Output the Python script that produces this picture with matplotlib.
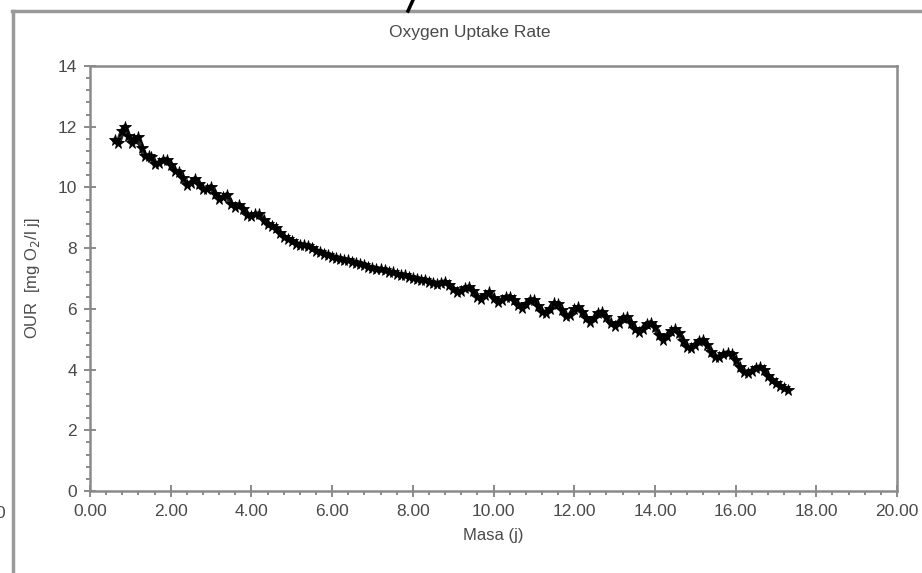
import matplotlib.pyplot as plt
from matplotlib.lines import Line2D
from matplotlib.ticker import MultipleLocator, FormatStrFormatter

plt.rcParams['font.family'] = ['Liberation Sans', 'DejaVu Sans']

# Masa (j) vs OUR
masa = [0.62, 0.7, 0.8, 0.87, 0.95, 1.03, 1.1, 1.2, 1.28, 1.36,
        1.45, 1.52, 1.61, 1.7, 1.8, 1.9, 2.0, 2.1, 2.2, 2.3,
        2.4, 2.5, 2.6, 2.7, 2.8, 2.9, 3.0, 3.1, 3.2, 3.3,
        3.4, 3.5, 3.6, 3.7, 3.8, 3.9, 4.0, 4.1, 4.2, 4.3,
        4.4, 4.5, 4.6, 4.7, 4.8, 4.9, 5.0, 5.1, 5.2, 5.3,
        5.4, 5.5, 5.6, 5.7, 5.8, 5.9, 6.0, 6.1, 6.2, 6.3,
        6.4, 6.5, 6.6, 6.7, 6.8, 6.9, 7.0, 7.1, 7.2, 7.3,
        7.4, 7.5, 7.6, 7.7, 7.8, 7.9, 8.0, 8.1, 8.2, 8.3,
        8.4, 8.5, 8.6, 8.7, 8.8, 8.9, 9.0, 9.1, 9.2, 9.3,
        9.4, 9.5, 9.6, 9.7, 9.8, 9.9, 10.0, 10.1, 10.2, 10.3,
        10.4, 10.5, 10.6, 10.7, 10.8, 10.9, 11.0, 11.1, 11.2, 11.3,
        11.4, 11.5, 11.6, 11.7, 11.8, 11.9, 12.0, 12.1, 12.2, 12.3,
        12.4, 12.5, 12.6, 12.7, 12.8, 12.9, 13.0, 13.1, 13.2, 13.3,
        13.4, 13.5, 13.6, 13.7, 13.8, 13.9, 14.0, 14.1, 14.2, 14.3,
        14.4, 14.5, 14.6, 14.7, 14.8, 14.9, 15.0, 15.1, 15.2, 15.3,
        15.4, 15.5, 15.6, 15.7, 15.8, 15.9, 16.0, 16.1, 16.2, 16.3,
        16.4, 16.5, 16.6, 16.7, 16.8, 16.9, 17.0, 17.1, 17.2, 17.3]
our = [11.55, 11.45, 11.85, 12.0, 11.7, 11.48, 11.6, 11.65, 11.3, 11.02,
       11.05, 11.0, 10.76, 10.8, 10.9, 10.92, 10.75, 10.55, 10.5, 10.3,
       10.08, 10.15, 10.28, 10.1, 9.95, 9.95, 10.02, 9.8, 9.62, 9.68,
       9.76, 9.45, 9.35, 9.42, 9.3, 9.1, 9.05, 9.12, 9.12, 8.92,
       8.78, 8.72, 8.65, 8.5, 8.38, 8.3, 8.25, 8.15, 8.12, 8.1,
       8.08, 8.0, 7.92, 7.86, 7.82, 7.78, 7.72, 7.68, 7.65, 7.62,
       7.6, 7.56, 7.52, 7.48, 7.44, 7.38, 7.34, 7.32, 7.3, 7.27,
       7.22, 7.2, 7.15, 7.12, 7.1, 7.06, 7.02, 7.0, 6.95, 6.96,
       6.9, 6.86, 6.82, 6.86, 6.88, 6.8, 6.65, 6.55, 6.6, 6.68,
       6.72, 6.58, 6.4, 6.32, 6.45, 6.55, 6.35, 6.22, 6.28, 6.38,
       6.4, 6.3, 6.12, 6.04, 6.15, 6.3, 6.3, 6.1, 5.9, 5.88,
       6.0, 6.18, 6.15, 5.95, 5.75, 5.8, 5.98, 6.05, 5.9, 5.7,
       5.58, 5.7, 5.86, 5.9, 5.72, 5.52, 5.45, 5.55, 5.7, 5.72,
       5.55, 5.35, 5.25, 5.35, 5.5, 5.54, 5.4, 5.15, 4.98, 5.1,
       5.28, 5.33, 5.2, 4.95, 4.75, 4.72, 4.82, 4.95, 4.97, 4.8,
       4.58, 4.42, 4.4, 4.5, 4.55, 4.5, 4.3, 4.08, 3.92, 3.88,
       3.95, 4.05, 4.08, 4.0, 3.8, 3.65, 3.55, 3.45, 3.38, 3.32]

grey = '#8a8a8a'
txt = '#4a4a4a'

fig = plt.figure(figsize=(9.22, 5.73), dpi=100)
ax = fig.add_axes([90/922, 1 - 491/573, (897 - 90)/922, (491 - 66)/573])

ax.plot(masa, our, color='black', lw=4, alpha=0.85, solid_joinstyle='round')
ax.plot(masa, our, ls='none', marker='*', ms=8.5, color='black', mew=0.6)

ax.set_xlim(0, 20)
ax.set_ylim(0, 14)
ax.xaxis.set_major_locator(MultipleLocator(2))
ax.xaxis.set_minor_locator(MultipleLocator(0.4))
ax.yaxis.set_major_locator(MultipleLocator(2))
ax.yaxis.set_minor_locator(MultipleLocator(0.4))
ax.xaxis.set_major_formatter(FormatStrFormatter('%.2f'))

for s in ax.spines.values():
    s.set_color(grey)
    s.set_linewidth(1.8)
ax.tick_params(which='major', direction='inout', length=9, width=1.4, color=grey,
               labelsize=12.5, labelcolor=txt, pad=5)
ax.tick_params(which='minor', direction='out', length=3, width=1.4, color=grey)

ax.set_xlabel('Masa (j)', fontsize=12, color=txt, labelpad=6)
ax.set_ylabel('OUR  [mg O$_2$/l j]', fontsize=12, color=txt, labelpad=11)
fig.text(470/922, 1 - 33/573, 'Oxygen Uptake Rate', ha='center', va='center',
         fontsize=12.5, color=txt)

# bits of the surrounding window in the screenshot
fig.add_artist(Line2D([12/922, 1], [1 - 11/573, 1 - 11/573], color='#9a9a9a', lw=2.5))
fig.add_artist(Line2D([13/922, 13/922], [0, 1 - 11/573], color='#9a9a9a', lw=2.5))
fig.add_artist(Line2D([413/922, 408/922], [1, 1 - 11/573], color='black', lw=2.5))
fig.text(-5/922, 1 - 513/573, '0', ha='left', va='center', fontsize=12.5, color=txt)

fig.savefig('out.png', dpi=100)
